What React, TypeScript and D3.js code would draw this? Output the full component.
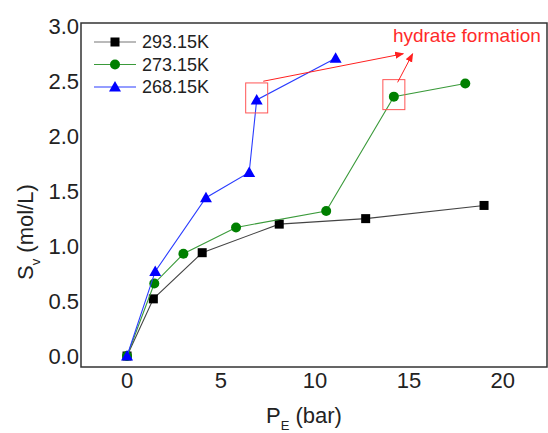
import { scaleLinear, line } from 'd3';

const pressure293 = [0, 1.4, 4, 8.1, 12.7, 19];
const sv293 = [0, 0.52, 0.94, 1.2, 1.25, 1.37];
const pressure273 = [0, 1.45, 3, 5.8, 10.6, 14.2, 18];
const sv273 = [0, 0.66, 0.93, 1.17, 1.32, 2.36, 2.48];
const pressure268 = [0, 1.5, 4.2, 6.5, 6.9, 11.1];
const sv268 = [0, 0.77, 1.44, 1.67, 2.33, 2.71];
const xTicks = [0, 5, 10, 15, 20];
const yTicks = [0, 0.5, 1, 1.5, 2, 2.5, 3];
const seriesNames = ['293.15K', '273.15K', '268.15K'];
// hydrate formation annotation: highlighted points, arrow starts, arrow tips, label
const hydratePoints = [[6.9, 2.33], [14.2, 2.36]];
const arrowFrom = [[7.25, 2.5], [14.4, 2.49]];
const arrowTo = [[14.7, 2.75], [15.2, 2.75]];
const noteAt = [14.15, 2.86];

const W = 548;
const H = 433;
const left = 81;
const right = 547;
const top = 23;
const bottom = 367;
const font = "'Liberation Sans', Arial, sans-serif";

const x = scaleLinear().domain([-2.45, 22.35]).range([left, right]);
const y = scaleLinear().domain([-0.1, 3.03]).range([bottom, top]);

type S = { name: string; xs: number[]; ys: number[]; line: string; fill: string; shape: string };
const series: S[] = [
  { name: seriesNames[0], xs: pressure293, ys: sv293, line: '#444', fill: '#000', shape: 'square' },
  { name: seriesNames[1], xs: pressure273, ys: sv273, line: '#3a9a3a', fill: '#008000', shape: 'circle' },
  { name: seriesNames[2], xs: pressure268, ys: sv268, line: '#2a3cff', fill: '#0000ff', shape: 'triangle' },
];

const Marker = ({ cx, cy, shape, fill }: { cx: number; cy: number; shape: string; fill: string }) => {
  if (shape === 'square') return <rect x={cx - 4.5} y={cy - 4.5} width={9} height={9} fill={fill} />;
  if (shape === 'circle') return <circle cx={cx} cy={cy} r={5} fill={fill} />;
  return <path d={`M${cx},${cy - 6} L${cx + 6},${cy + 4.5} L${cx - 6},${cy + 4.5}Z`} fill={fill} />;
};

const App = () => {
  const lineGen = line<[number, number]>()
    .x((d) => x(d[0]))
    .y((d) => y(d[1]));

  return (
    <svg width={W} height={H} style={{ position: 'absolute', left: 0, top: 0, background: '#fff' }} fontFamily={font}>
      <defs>
        <marker id="arr" viewBox="0 0 10 10" refX="9" refY="5" markerWidth="9" markerHeight="9" orient="auto" markerUnits="userSpaceOnUse">
          <path d="M0,1 L10,5 L0,9 Z" fill="#ff2020" />
        </marker>
      </defs>
      <rect x={left} y={top} width={right - left} height={bottom - top} fill="none" stroke="#333" strokeWidth={1.5} />

      {yTicks.map((t) => (
        <text key={t} x={left - 2} y={y(t)} dy="0.36em" textAnchor="end" fontSize={22} fill="#222">
          {t.toFixed(1)}
        </text>
      ))}
      {xTicks.map((t) => (
        <text key={t} x={x(t)} y={bottom + 21} textAnchor="middle" fontSize={22} fill="#222">
          {t}
        </text>
      ))}

      <text x={266} y={423} fontSize={22} fill="#222">
        P<tspan fontSize={13} dy={7}>E</tspan>
        <tspan dy={-7}> (bar)</tspan>
      </text>
      <text transform="translate(33,280) rotate(-90)" fontSize={22} fill="#222">
        S<tspan fontSize={13} dy={7}>v</tspan>
        <tspan dy={-7}> (mol/L)</tspan>
      </text>

      {series.map((s) => {
        const pts = s.xs.map((v, i) => [v, s.ys[i]] as [number, number]);
        return (
          <g key={s.name}>
            <path d={lineGen(pts) ?? ''} fill="none" stroke={s.line} strokeWidth={1.1} />
            {pts.map((p, i) => (
              <Marker key={i} cx={x(p[0])} cy={y(p[1])} shape={s.shape} fill={s.fill} />
            ))}
          </g>
        );
      })}

      {hydratePoints.map((p, i) => (
        <rect key={i} x={x(p[0]) - 11} y={y(p[1]) - 17} width={22} height={30} fill="none" stroke="#ff5555" strokeWidth={1} />
      ))}
      {arrowFrom.map((p, i) => (
        <line
          key={i}
          x1={x(p[0])}
          y1={y(p[1])}
          x2={x(arrowTo[i][0])}
          y2={y(arrowTo[i][1])}
          stroke="#ff2020"
          strokeWidth={1}
          markerEnd="url(#arr)"
        />
      ))}
      <text x={x(noteAt[0])} y={y(noteAt[1])} fontSize={19} fill="#ff2a2a">
        hydrate formation
      </text>

      {series.map((s, i) => {
        const ly = 42 + i * 22.5;
        return (
          <g key={s.name}>
            <line x1={94} x2={136} y1={ly} y2={ly} stroke={i === 0 ? '#777' : s.line} strokeWidth={1.1} />
            <Marker cx={115} cy={ly} shape={s.shape} fill={s.fill} />
            <text x={142} y={ly} dy="0.36em" fontSize={18} fill="#222">
              {s.name}
            </text>
          </g>
        );
      })}
    </svg>
  );
};

export default App;
